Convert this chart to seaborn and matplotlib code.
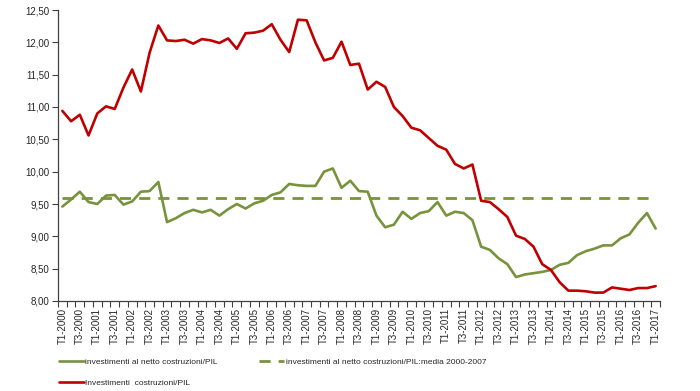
import numpy as np
import pandas as pd
import matplotlib
matplotlib.use('Agg')
import matplotlib.pyplot as plt
import seaborn as sns
from matplotlib.ticker import FixedLocator, FuncFormatter

# quarters T1-2000 ... T1-2017
quarters = [f"T{q}-{y}" for y in range(2000, 2017) for q in range(1, 5)] + ["T1-2017"]

# investimenti al netto costruzioni/PIL
inv_netto = [9.46, 9.57, 9.69, 9.53, 9.50, 9.63, 9.64, 9.49, 9.54, 9.69, 9.70, 9.84,
             9.22, 9.28, 9.36, 9.41, 9.37, 9.41, 9.32, 9.42, 9.50, 9.43, 9.51, 9.55,
             9.64, 9.68, 9.81, 9.79, 9.78, 9.78, 10.00, 10.05, 9.75, 9.86, 9.70, 9.69,
             9.32, 9.14, 9.18, 9.38, 9.27, 9.36, 9.39, 9.53, 9.32, 9.38, 9.36, 9.25,
             8.84, 8.79, 8.66, 8.57, 8.37, 8.41, 8.43, 8.45, 8.48, 8.56, 8.59, 8.71,
             8.77, 8.81, 8.86, 8.86, 8.97, 9.03, 9.21, 9.36, 9.12]

# media 2000-2007 of the series above
media_2000_2007 = 9.59

# Investimenti costruzioni/PIL
inv_costruzioni = [10.94, 10.78, 10.88, 10.56, 10.90, 11.01, 10.97, 11.30, 11.58, 11.24, 11.84, 12.26,
                   12.03, 12.02, 12.04, 11.98, 12.05, 12.03, 11.99, 12.06, 11.90, 12.14, 12.15, 12.18,
                   12.28, 12.04, 11.85, 12.35, 12.34, 12.00, 11.72, 11.76, 12.01, 11.65, 11.67, 11.27,
                   11.39, 11.31, 11.00, 10.86, 10.68, 10.64, 10.52, 10.40, 10.34, 10.12, 10.05, 10.11,
                   9.55, 9.53, 9.42, 9.30, 9.01, 8.96, 8.84, 8.57, 8.48, 8.29, 8.16, 8.16,
                   8.15, 8.13, 8.13, 8.21, 8.19, 8.17, 8.20, 8.20, 8.23]

df = pd.DataFrame({
    'pos': np.arange(len(quarters)),
    'netto': inv_netto,
    'media': [media_2000_2007] * len(quarters),
    'costr': inv_costruzioni,
})

sns.set_style('white')
plt.rcParams['font.family'] = ['Liberation Sans', 'DejaVu Sans']
text_col = '#262626'
green = '#77933C'
red = '#C00000'

fig = plt.figure(figsize=(7, 3.91), dpi=100)
ax = fig.add_axes([58 / 700, 90 / 391, 602 / 700, 291 / 391])

sns.lineplot(data=df, x='pos', y='netto', ax=ax, color=green, linewidth=1.9,
             label='investimenti al netto costruzioni/PIL')
sns.lineplot(data=df, x='pos', y='costr', ax=ax, color=red, linewidth=1.9,
             label='Investimenti  costruzioni/PIL')
sns.lineplot(data=df, x='pos', y='media', ax=ax, color=green, linewidth=2.0,
             label='investimenti al netto costruzioni/PIL:media 2000-2007')
ax.lines[-1].set_dashes((4.0, 2.9))

ax.set_xlim(-0.5, len(quarters) - 0.5)
ax.set_ylim(8.0, 12.5)
ax.set_xlabel('')
ax.set_ylabel('')

# y axis
ax.set_yticks(np.arange(8.0, 12.51, 0.5))
ax.yaxis.set_major_formatter(FuncFormatter(lambda v, p: f"{v:.2f}".replace('.', ',')))
ax.tick_params(axis='y', direction='out', length=4, width=0.8, color='#404040',
               labelsize=7, labelcolor=text_col, pad=2, left=True)

# x axis: labels every two quarters, tick marks on category borders
ax.set_xticks(df['pos'][::2])
ax.set_xticklabels(quarters[::2], rotation=90)
ax.xaxis.set_minor_locator(FixedLocator(np.arange(-0.5, len(quarters), 1.0)))
ax.tick_params(axis='x', which='major', length=0, labelsize=7, labelcolor=text_col, pad=5)
ax.tick_params(axis='x', which='minor', direction='out', length=4, width=0.8,
               color='#404040', bottom=True)

for s in ['top', 'right']:
    ax.spines[s].set_visible(False)
for s in ['left', 'bottom']:
    ax.spines[s].set_color('#404040')
    ax.spines[s].set_linewidth(0.9)

ax.get_legend().remove()
h, l = ax.get_legend_handles_labels()
fig.legend(h, l, loc='upper left', bbox_to_anchor=(59 / 700, 1 - 358 / 391), ncol=2,
           frameon=False, fontsize=6, handlelength=3.0, handletextpad=0.15,
           columnspacing=5.0, labelspacing=1.6, borderpad=0, borderaxespad=0,
           labelcolor=text_col)

fig.savefig('out.png', dpi=100)
